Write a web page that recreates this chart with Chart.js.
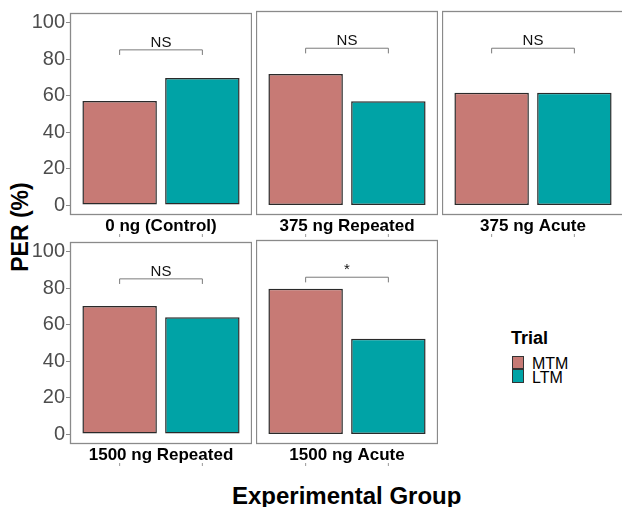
<!DOCTYPE html>
<html>
<head>
<meta charset="utf-8">
<script src="https://cdn.jsdelivr.net/npm/chart.js@4.4.0/dist/chart.umd.min.js"></script>
<style>
  html, body { margin: 0; padding: 0; background: #fff; overflow: hidden; width: 622px; height: 507px; }
  #wrap { position: relative; width: 622px; height: 507px; overflow: hidden;
          font-family: "Liberation Sans", Arial, sans-serif; color: #000; }
  #wrap canvas { position: absolute; }
  .ytitle { position: absolute; left: 20.2px; top: 226.7px; line-height: 1; font-size: 23px; font-weight: bold;
            white-space: nowrap; transform: translate(-50%, -50%) rotate(-90deg); }
  .xtitle { position: absolute; left: 346.7px; top: 483.6px; line-height: 1; font-size: 24px; font-weight: bold;
            white-space: nowrap; transform: translateX(-50%); }
  .legtitle { position: absolute; left: 511px; top: 329.3px; line-height: 1; font-size: 18px; font-weight: bold; }
  .key { position: absolute; left: 511.5px; width: 12px; height: 13.5px; box-sizing: border-box; border: 1px solid #333; }
  .keylab { position: absolute; left: 532px; line-height: 1; font-size: 16px; }
</style>
</head>
<body>
<div id="wrap">
  <div class="ytitle">PER (%)</div>
  <div class="xtitle">Experimental Group</div>
  <div id="legend"></div>
</div>
<script>
// Proboscis extension response by experimental group and trial
const groups = ['0 ng (Control)', '375 ng Repeated', '375 ng Acute', '1500 ng Repeated', '1500 ng Acute'];
const trials = ['MTM', 'LTM'];
const mtmPER = [57.1, 71.2, 61.0, 70.3, 79.0];
const ltmPER = [69.7, 56.4, 61.0, 64.1, 51.8];
const sigLabels = ['NS', 'NS', 'NS', 'NS', '*'];
const yTicks = [0, 20, 40, 60, 80, 100];

const trialColors = ['#c77a75', '#00a3a6'];
const FONT = '"Liberation Sans", Arial, sans-serif';
Chart.defaults.font.family = FONT;

// facet grid geometry (3 columns, 2 rows)
const colLeft = [70, 256, 442];
const rowTop = [0, 229];
const PANEL_W = 182, PANEL_H = 204, TOP_PAD = 11, XAXIS_H = 30, YAXIS_W = 40;
const Y_MIN = -5.43, Y_MAX = 105.43;
const BRACKET_Y = 85.2, BRACKET_TIP = 82.4;

// panel border, significance bracket and x tick marks
const facetDecor = {
  id: 'facetDecor',
  afterDraw(chart) {
    const { ctx, chartArea: a, scales } = chart;
    const i = chart.options.plugins.facetDecor.index;
    const x1 = scales.x.getPixelForValue(1);
    const x2 = scales.x.getPixelForValue(2);
    ctx.save();
    // panel frame
    ctx.strokeStyle = '#8a8a8a';
    ctx.lineWidth = 1.3;
    ctx.strokeRect(a.left + 0.5, a.top + 0.5, a.right - a.left - 1, a.bottom - a.top - 1);
    // bracket
    const yb = scales.y.getPixelForValue(BRACKET_Y);
    const yt = scales.y.getPixelForValue(BRACKET_TIP);
    ctx.strokeStyle = '#7a7a7a';
    ctx.lineWidth = 1;
    ctx.beginPath();
    ctx.moveTo(x1, yt); ctx.lineTo(x1, yb); ctx.lineTo(x2, yb); ctx.lineTo(x2, yt);
    ctx.stroke();
    ctx.fillStyle = '#111';
    ctx.font = '15px ' + FONT;
    ctx.textAlign = 'center';
    ctx.textBaseline = 'middle';
    ctx.fillText(sigLabels[i], (x1 + x2) / 2, yb - 7.3);
    // x-axis tick marks below the strip label
    ctx.strokeStyle = '#9a9a9a';
    ctx.beginPath();
    [x1, x2].forEach(x => { ctx.moveTo(x, a.bottom + 19); ctx.lineTo(x, a.bottom + 22); });
    ctx.stroke();
    ctx.restore();
  }
};

const wrap = document.getElementById('wrap');
groups.forEach((g, i) => {
  const col = i % 3, row = Math.floor(i / 3);
  const showY = col === 0;
  const w = PANEL_W + (showY ? YAXIS_W : 0);
  const h = TOP_PAD + PANEL_H + XAXIS_H;
  const cv = document.createElement('canvas');
  cv.width = w; cv.height = h;
  cv.style.left = (colLeft[col] - (showY ? YAXIS_W : 0)) + 'px';
  cv.style.top = rowTop[row] + 'px';
  cv.style.width = w + 'px'; cv.style.height = h + 'px';
  wrap.appendChild(cv);

  new Chart(cv, {
    type: 'bar',
    data: {
      datasets: [{
        label: g,
        data: [{ x: 1, y: mtmPER[i] }, { x: 2, y: ltmPER[i] }],
        backgroundColor: trialColors,
        borderColor: '#2a2a2a',
        borderWidth: 1.5,
        borderSkipped: false,
        barPercentage: 0.9,
        categoryPercentage: 1
      }]
    },
    options: {
      responsive: false,
      animation: false,
      devicePixelRatio: 1,
      layout: { padding: { top: TOP_PAD, left: 0, right: 0, bottom: 0 } },
      plugins: {
        legend: { display: false },
        tooltip: { enabled: false },
        facetDecor: { index: i }
      },
      scales: {
        x: {
          type: 'linear', min: 0.4, max: 2.6, offset: false,
          afterBuildTicks(s) { s.ticks = [1, 2].map(v => ({ value: v })); },
          ticks: { display: false },
          grid: { display: false, offset: false },
          border: { display: false },
          title: { display: true, text: g, color: '#000',
                   font: { size: 17, weight: 'bold' }, padding: { top: 0, bottom: 8.5 } },
          afterFit(s) { s.height = XAXIS_H; }
        },
        y: {
          display: showY,
          min: Y_MIN, max: Y_MAX,
          afterBuildTicks(s) { s.ticks = yTicks.map(v => ({ value: v })); },
          ticks: { color: '#4d4d4d', font: { size: 20 }, padding: 1 },
          grid: { drawOnChartArea: false, tickLength: 4, color: '#8a8a8a' },
          border: { display: false },
          afterFit(s) { s.width = showY ? YAXIS_W : 0; }
        }
      }
    },
    plugins: [facetDecor]
  });
});

// legend for the Trial fill
const leg = document.getElementById('legend');
const lt = document.createElement('div');
lt.className = 'legtitle'; lt.textContent = 'Trial';
leg.appendChild(lt);
trials.forEach((t, k) => {
  const box = document.createElement('div');
  box.className = 'key';
  box.style.top = (355.5 + k * 13.5) + 'px';
  box.style.background = trialColors[k];
  leg.appendChild(box);
  const lab = document.createElement('div');
  lab.className = 'keylab';
  lab.style.top = (355.9 + k * 13.7) + 'px';
  lab.textContent = t;
  leg.appendChild(lab);
});
</script>
</body>
</html>
